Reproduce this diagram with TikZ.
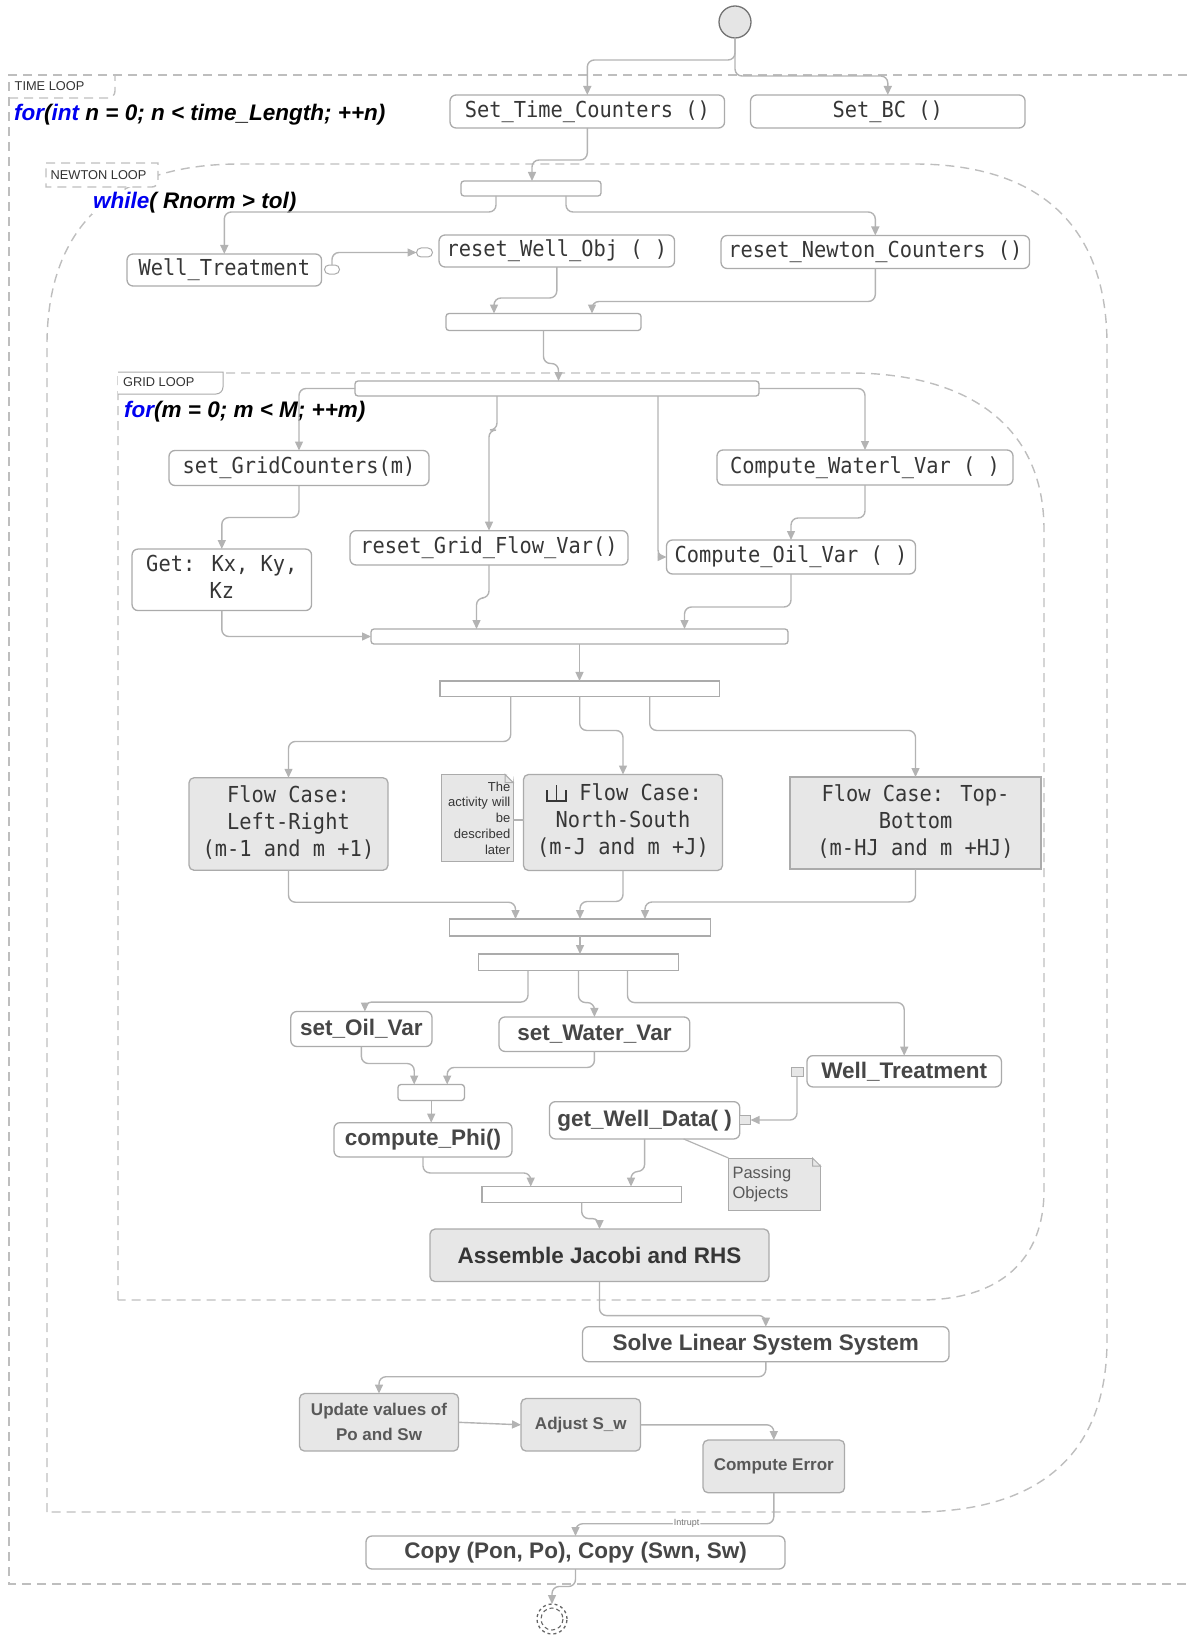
\documentclass[tikz,border=0pt]{standalone}
\usepackage{graphicx}
\usepackage{fontspec}
\setmainfont{Liberation Sans}
\newfontfamily\monof{DejaVu Sans Mono}
\newfontfamily\arialf{Liberation Sans}
\usetikzlibrary{arrows.meta}
\definecolor{lnc}{HTML}{B3B3B3}
\definecolor{bdc}{HTML}{ABABAB}
\definecolor{fgc}{HTML}{E7E7E7}
\definecolor{txc}{HTML}{363636}
\definecolor{txb}{HTML}{464646}
\definecolor{dsc}{HTML}{BEBEBE}
\definecolor{cb}{HTML}{0000F0}
\newcommand\mf{\monof\fontsize{22}{27}\selectfont}
\newcommand\msc[1]{\scalebox{0.925}[1]{#1}}
\newcommand\mlines[1]{\msc{\begin{tabular}{@{}c@{}}#1\end{tabular}}}
\newcommand\bfa{\arialf\bfseries\fontsize{22.5}{27}\selectfont}
\newcommand\bfs{\arialf\bfseries\fontsize{17}{25}\selectfont}
\newcommand\tabf{\arialf\fontsize{12.8}{15}\selectfont}
\newcommand\codef{\arialf\bfseries\itshape\fontsize{22.5}{27}\selectfont}
\tikzset{
 box/.style={draw=bdc, line width=1.3pt, rounded corners=6pt, fill=white, inner sep=0pt, outer sep=0pt, text=txc, align=center},
 mono/.style={box, font=\mf},
 bold/.style={box, font=\bfa, text=txb},
 gbox/.style={box, fill=fgc},
 bar/.style={draw=bdc, line width=1.3pt, rounded corners=3pt, fill=white, inner sep=0pt, outer sep=0pt},
 sz/.style 2 args={minimum width=#1pt, minimum height=#2pt},
 conn/.style={draw=lnc, line width=1.4pt, rounded corners=7pt, -{Triangle[length=9pt,width=8pt]}},
 plain/.style={draw=lnc, line width=1.2pt},
 loopline/.style={draw=dsc, line width=1.4pt, dash pattern=on 9pt off 6pt},
 code/.style={font=\codef, inner sep=1pt, anchor=west},
 tabtxt/.style={font=\tabf, text=black!80, inner sep=0pt, anchor=west},
 port/.style={draw=bdc, line width=1pt, fill=white, inner sep=0pt, outer sep=0pt},
 notebox/.style={draw=bdc, line width=1pt, fill=fgc, inner sep=0pt, outer sep=0pt, text=txc},
}
\begin{document}
\begin{tikzpicture}[x=1pt,y=-1pt]
\useasboundingbox (0,0) rectangle (1187,1637);
% ---------- loops ----------
\draw[loopline] (1187,75) -- (9,75) -- (9,1584) -- (1187,1584);
\draw[loopline] (9,98) -- (108,98) to[out=0,in=-90] (115,91) -- (115,75);
\draw[loopline] (47,1512) -- (47,345) .. controls (47,230) and (110,164) .. (240,164) -- (914,164) .. controls (1044,164) and (1107,230) .. (1107,345) -- (1107,1340) .. controls (1107,1450) and (1044,1512) .. (914,1512) -- cycle;
\draw[loopline, fill=white] (46,163) -- (158,163) -- (158,181) to[out=-90,in=0] (152,187) -- (46,187) -- cycle;
\draw[loopline] (118,1300) -- (118,373) -- (850,373) .. controls (960,373) and (1044,420) .. (1044,530) -- (1044,1190) .. controls (1044,1260) and (1000,1300) .. (920,1300) -- cycle;
\draw[draw=bdc, line width=1pt, fill=white] (118,372) -- (223,372) -- (223,387) to[out=-90,in=0] (216,394) -- (118,394);
% ---------- loop labels ----------
\node[tabtxt] (tl) at (14.5,86) {TIME LOOP};
\node[tabtxt] (nl) at (50.5,175) {NEWTON LOOP};
\node[tabtxt] (gl) at (123,382) {GRID LOOP};
\node[code] (forn) at (13,115) {{\color{cb}for}({\color{cb}int} n = 0; n < time\_Length; ++n)};
\node[code, fill=white] (whl) at (92,203) {{\color{cb}while}( Rnorm > tol)};
\node[code] (form) at (123,412) {{\color{cb}for}(m = 0; m < M; ++m)};
% ---------- nodes ----------
\node[circle, draw=black!55, fill=black!10, line width=1.3pt, minimum size=32pt, inner sep=0pt, outer sep=0pt] (start) at (735,22) {};
\node[mono, sz={274.5}{33}] (stc) at (587.3,111.5) {\msc{Set\_Time\_Counters ()}};
\node[mono, sz={274.5}{33}] (sbc) at (887.8,111.5) {\msc{Set\_BC ()}};
\node[bar, sz={140}{15}] (nb1) at (531,188.5) {};
\node[mono, sz={194.5}{32}] (wt1) at (224.3,270) {\msc{Well\_Treatment}};
\node[mono, sz={235.5}{32}] (rwo) at (556.8,251) {\msc{reset\_Well\_Obj ( )}};
\node[mono, sz={308.5}{33}] (rnc) at (875.3,252) {\msc{reset\_Newton\_Counters ()}};
\node[port, rounded corners=4.5pt, sz={15}{9}] (p1) at (332,269.5) {};
\node[port, rounded corners=4.5pt, sz={16}{9}] (p2) at (424.5,252.5) {};
\node[bar, sz={195}{17}] (nb2) at (543.5,322) {};
\node[bar, sz={404}{15}] (gb1) at (557,388.5) {};
\node[mono, sz={260}{35}] (sgc) at (299,468) {\msc{set\_GridCounters(m)}};
\node[mono, sz={179.5}{61.5}] (gk) at (221.8,579.8) {\mlines{Get: Kx, Ky,\\Kz}};
\node[mono, sz={278}{34.3}] (rgf) at (489,547.8) {\msc{reset\_Grid\_Flow\_Var()}};
\node[mono, sz={296}{35}] (cwv) at (865,467.5) {\msc{Compute\_Waterl\_Var ( )}};
\node[mono, sz={249}{34}] (cov) at (791,557) {\msc{Compute\_Oil\_Var ( )}};
\node[bar, sz={417}{15}] (gb2) at (579.5,636.5) {};
\node[bar, rounded corners=0pt, sz={279.5}{15.5}] (gb3) at (579.7,688.7) {};
\node[mono, gbox, rounded corners=5pt, sz={199}{92.5}] (flr) at (288.5,824) {\mlines{Flow Case:\\Left-Right\\(m-1 and m +1)}};
\node[notebox, sz={71.5}{87}, text width=66pt, inner xsep=2.75pt, align=right, font=\arialf\fontsize{13}{15.7}\selectfont] (note1) at (477.3,818) {The\\activity will\\be\\described\\later};
\node[mono, gbox, rounded corners=5pt, sz={199}{96}] (fns) at (623,822.5) {\mlines{\hspace*{38pt}Flow Case:\\North-South\\(m-J and m +J)}};
\node[mono, gbox, rounded corners=0pt, sz={251}{92}] (ftb) at (915.5,823) {\mlines{Flow Case: Top-\\Bottom\\(m-HJ and m +HJ)}};
\node[bar, rounded corners=0pt, sz={261}{17}] (gb4) at (580,927.5) {};
\node[bar, rounded corners=0pt, sz={200}{16.5}] (gb5) at (578.5,962.3) {};
\node[bold, sz={141.2}{35}] (sov) at (361.4,1029) {set\_Oil\_Var};
\node[bold, sz={190.8}{34.5}] (swv) at (594.4,1034.2) {set\_Water\_Var};
\node[bold, sz={194.5}{31.3}] (wt2) at (904.2,1071.3) {Well\_Treatment};
\node[port, fill=fgc, sz={12}{9}] (p3) at (797,1072) {};
\node[bold, sz={190.3}{37.3}] (gwd) at (644.6,1120.3) {get\_Well\_Data( )};
\node[port, fill=fgc, sz={11}{9}] (p4) at (745,1120) {};
\node[bar, sz={66.5}{16}] (gb6) at (431.2,1092.5) {};
\node[bold, sz={178}{34.3}] (cphi) at (423,1139.8) {compute\_Phi()};
\node[bar, rounded corners=0pt, sz={199.5}{16}] (gb7) at (581.7,1194.6) {};
\node[notebox, sz={92}{52}, text width=84pt, inner xsep=4pt, align=left, font=\arialf\fontsize{16.5}{20}\selectfont, text=black!65] (note2) at (774.5,1184) {Passing\\Objects};
\node[bold, gbox, rounded corners=5pt, sz={339}{52.5}] (ajr) at (599.5,1255.3) {Assemble Jacobi and RHS};
\node[bold, sz={366.5}{35}] (sls) at (765.8,1344.2) {Solve Linear System System};
\node[gbox, font=\bfs, text=black!65, rounded corners=5pt, sz={159}{57.5}] (upd) at (379,1422.3) {Update values of\\Po and Sw};
\node[gbox, font=\bfs, text=black!65, rounded corners=5pt, sz={119.5}{52.5}] (adj) at (580.8,1424.8) {Adjust S\_w};
\node[gbox, font=\bfs, text=black!65, rounded corners=5pt, sz={141.5}{52.7}] (cer) at (773.8,1466.4) {Compute Error};
\node[bold, sz={419}{33}] (cpy) at (575.5,1552.5) {Copy (Pon, Po), Copy (Swn, Sw)};
\node[circle, draw=black!60, dashed, line width=1.3pt, minimum size=30pt, inner sep=0pt, outer sep=0pt] (end) at (552,1619) {};
\draw[black!60, line width=1.1pt, dash pattern=on 4pt off 3pt] (end) circle (11);
% note folds
\fill[white] ([xshift=-8pt]note1.north east) -- ([xshift=1pt,yshift=1pt]note1.north east) -- ([yshift=-8pt]note1.north east) -- cycle;
\draw[bdc, line width=1pt] ([xshift=-8pt]note1.north east) -- ([yshift=-8pt]note1.north east) -- ([xshift=-8pt,yshift=-8pt]note1.north east) -- cycle;
\fill[white] ([xshift=-8pt]note2.north east) -- ([xshift=1pt,yshift=1pt]note2.north east) -- ([yshift=-8pt]note2.north east) -- cycle;
\draw[bdc, line width=1pt] ([xshift=-8pt]note2.north east) -- ([yshift=-8pt]note2.north east) -- ([xshift=-8pt,yshift=-8pt]note2.north east) -- cycle;
% rake icon
\draw[txc, line width=1.6pt] (547,790) -- (547,801) -- (566,801) -- (566,790) (556.5,785) -- (556.5,801);
% ---------- connectors ----------
\draw[conn] (start.south) -- ++(0,22) -| (stc.north);
\draw[conn] (start.south) -- ++(0,38) -| (sbc.north);
\draw[conn] (stc.south) -- ++(0,32) -| ([xshift=1pt]nb1.north);
\draw[conn] ([xshift=-35pt]nb1.south) -- ++(0,16) -| (wt1.north);
\draw[conn] ([xshift=35pt]nb1.south) -- ++(0,16) -| (rnc.north);
\draw[conn] (p1.north) |- (p2.west);
\draw[conn] (rwo.south) -- ++(0,31) -| ([xshift=-49.5pt]nb2.north);
\draw[conn] (rnc.south) -- ++(0,33) -| ([xshift=48.5pt]nb2.north);
\draw[conn] (nb2.south) -- ++(0,33) -| ([xshift=1.5pt]gb1.north);
\draw[conn] (gb1.west) -| (sgc.north);
\draw[conn] ([xshift=-60pt]gb1.south) -- ++(0,34) -| (rgf.north);
\draw[conn] ([xshift=101pt]gb1.south) |- (cov.west);
\draw[conn] (gb1.east) -| (cwv.north);
\draw[conn] (sgc.south) -- ++(0,32) -| (gk.north);
\draw[conn] (cwv.south) -- ++(0,33) -| (cov.north);
\draw[conn] (gk.south) |- (gb2.west);
\draw[conn] (rgf.south) -- ++(0,33) -| ([xshift=-103pt]gb2.north);
\draw[conn] (cov.south) -- ++(0,33) -| ([xshift=105pt]gb2.north);
\draw[conn] (gb2.south) -- (gb2.south |- gb3.north);
\draw[conn] ([xshift=-69pt]gb3.south) -- ++(0,45) -| (flr.north);
\draw[conn] (gb3.south) -- ++(0,34) -| (fns.north);
\draw[conn] ([xshift=70pt]gb3.south) -- ++(0,34) -| (ftb.north);
\draw[plain] ([yshift=-2pt]note1.east) -- ([yshift=-2pt]note1.east -| fns.west);
\draw[conn] (flr.south) -- ++(0,32) -| ([xshift=-64.5pt]gb4.north);
\draw[conn] (fns.south) -- ++(0,31) -| (gb4.north);
\draw[conn] (ftb.south) -- ++(0,33) -| ([xshift=65pt]gb4.north);
\draw[conn] (gb4.south) -- (gb4.south |- gb5.north);
\draw[conn] ([xshift=-50.5pt]gb5.south) -- ++(0,31.5) -| ([xshift=3.5pt]sov.north);
\draw[conn] (gb5.south) -- ++(0,32) -| (swv.north);
\draw[conn] ([xshift=49pt]gb5.south) -- ++(0,32) -| (wt2.north);
\draw[conn] (sov.south) -- ++(0,17) -| ([xshift=-17pt]gb6.north);
\draw[conn] (swv.south) -- ++(0,16) -| ([xshift=16pt]gb6.north);
\draw[conn] (gb6.south) -- (gb6.south |- cphi.north);
\draw[conn] (p3.south) |- (p4.east);
\draw[conn] (cphi.south) -- ++(0,16) -| ([xshift=-51pt]gb7.north);
\draw[conn] (gwd.south) -- ++(0,32.5) -| ([xshift=49.3pt]gb7.north);
\draw[plain] ([xshift=39pt]gwd.south) -- (note2.north west);
\draw[conn] (gb7.south) -- ++(0,16) -| (ajr.north);
\draw[conn] (ajr.south) -- ++(0,34) -| (sls.north);
\draw[conn] (sls.south) -- ++(0,15) -| (upd.north);
\draw[conn] (upd.east) -- (adj.west);
\draw[conn] (adj.east) -| (cer.north);
\draw[conn] (cer.south) -- ++(0,31) -| node[pos=0.22, fill=white, inner sep=1pt, text=black!55, font=\arialf\fontsize{9}{10}\selectfont] (intr) {Intrupt} (cpy.north);
\draw[conn] (cpy.south) -- ++(0,17.5) -| (end.north);
\end{tikzpicture}
\end{document}
